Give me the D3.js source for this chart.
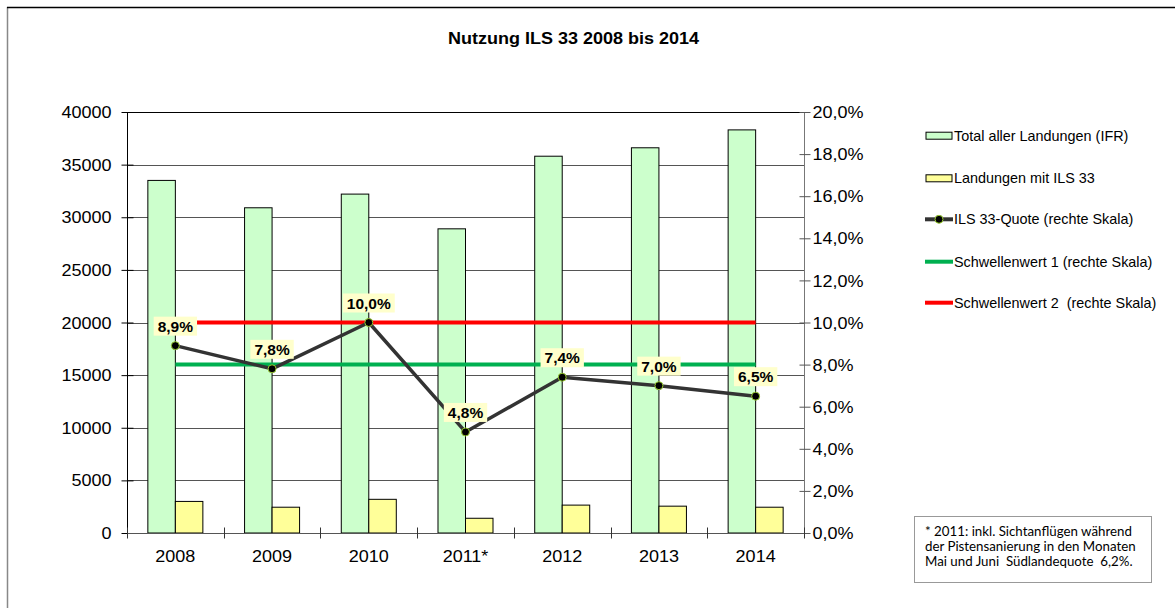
<!DOCTYPE html>
<html><head><meta charset="utf-8">
<script src="https://cdn.jsdelivr.net/npm/d3@7"></script>
<style>body{margin:0;background:#fff}svg{display:block}</style>
</head><body><svg id="c" width="1175" height="608"></svg>
<script>
const years = ["2008","2009","2010","2011*","2012","2013","2014"];
const totalLandings = [33500,30900,32200,28900,35800,36600,38300];
const ilsLandings = [3000,2450,3200,1400,2650,2550,2450];
const ilsQuote = [8.9,7.8,10.0,4.8,7.4,7.0,6.5];
const threshold1 = 8;
const threshold2 = 10;
const leftTicks = [0,5000,10000,15000,20000,25000,30000,35000,40000];
const rightTicks = [0,2,4,6,8,10,12,14,16,18,20];
const legendLabels = ["Total aller Landungen (IFR)","Landungen mit ILS 33","ILS 33-Quote (rechte Skala)","Schwellenwert 1 (rechte Skala)","Schwellenwert 2  (rechte Skala)"];
const titleText = "Nutzung ILS 33 2008 bis 2014";
const footnoteLines = ["* 2011: inkl. Sichtanflügen während","der Pistensanierung in den Monaten","Mai und Juni  Südlandequote  6,2%."];

const svg = d3.select("#c");
const L = 127, R = 804, T = 112, B = 533;
const SX = 1.14;
const fmtPct = v => v.toFixed(1).replace(".", ",") + "%";

// outer frame
svg.append("line").attr("x1",7.5).attr("x2",7.5).attr("y1",7).attr("y2",608).attr("stroke","#888").attr("stroke-width",1.5);
svg.append("line").attr("x1",7).attr("x2",1175).attr("y1",7.5).attr("y2",7.5).attr("stroke","#000").attr("stroke-width",1.5);

// title
svg.append("text").attr("transform",`translate(573.5,44) scale(${SX},1)`)
  .attr("text-anchor","middle").attr("font-family","Arial, Liberation Sans").attr("font-weight","bold")
  .attr("font-size",15.8).text(titleText);

const x = d3.scaleBand().domain(years).range([L,R]).padding(0);
const xs = d3.scaleBand().domain(["total","ils"]).range([0,x.bandwidth()]).paddingInner(0).paddingOuter(0.758);
const y = d3.scaleLinear().domain([0,40000]).range([B,T]);
const y2 = d3.scaleLinear().domain([0,20]).range([B,T]);

// gridlines
svg.append("g").selectAll("line").data(leftTicks.filter(d=>d>0)).join("line")
  .attr("x1",L).attr("x2",R).attr("y1",d=>Math.round(y(d))+0.5).attr("y2",d=>Math.round(y(d))+0.5)
  .attr("stroke",d=>d===40000?"#000":"#555").attr("stroke-width",1);

// bars
const bars = svg.append("g");
bars.selectAll("rect.t").data(years).join("rect").attr("class","t")
  .attr("x",d=>x(d)+xs("total")).attr("width",xs.bandwidth())
  .attr("y",(d,i)=>y(totalLandings[i])).attr("height",(d,i)=>B-y(totalLandings[i]))
  .attr("fill","#CCFFCC").attr("stroke","#000").attr("stroke-width",1);
bars.selectAll("rect.i").data(years).join("rect").attr("class","i")
  .attr("x",d=>x(d)+xs("ils")).attr("width",xs.bandwidth())
  .attr("y",(d,i)=>y(ilsLandings[i])).attr("height",(d,i)=>B-y(ilsLandings[i]))
  .attr("fill","#FFFF99").attr("stroke","#000").attr("stroke-width",1);

// left axis
const axL = svg.append("g").attr("transform",`translate(${L+0.5},0)`).call(d3.axisLeft(y).tickValues(leftTicks).tickSize(6).tickFormat(d=>d));
axL.select(".domain").attr("stroke","#000").attr("d",`M0,${B}V${T}`);
axL.selectAll(".tick line").attr("x1",-6).attr("x2",6).attr("stroke","#000");
axL.selectAll(".tick text").attr("x",null).attr("dy",null)
  .attr("transform",`translate(-16,5.6) scale(${SX},1)`)
  .attr("font-family","Arial, Liberation Sans").attr("font-size",15.8).attr("fill","#000");

// right axis
const axR = svg.append("g").attr("transform",`translate(${R+0.5},0)`).call(d3.axisRight(y2).tickValues(rightTicks).tickSize(6).tickFormat(d=>fmtPct(d)));
axR.select(".domain").attr("stroke","#777").attr("d",`M0,${B}V${T}`);
axR.selectAll(".tick line").attr("x1",-5).attr("x2",6).attr("stroke","#555");
axR.selectAll(".tick text").attr("x",null).attr("dy",null)
  .attr("transform",`translate(8,5.6) scale(${SX},1)`)
  .attr("font-family","Arial, Liberation Sans").attr("font-size",15.8).attr("fill","#000");

// bottom axis
const axB = svg.append("g").attr("transform",`translate(0,${B+0.5})`);
axB.append("line").attr("x1",L).attr("x2",R).attr("stroke","#555");
const bounds = years.map(d=>x(d)).concat([R]);
axB.selectAll("line.tk").data(bounds).join("line").attr("class","tk")
  .attr("x1",d=>Math.round(d)+0.5).attr("x2",d=>Math.round(d)+0.5).attr("y1",-6).attr("y2",5).attr("stroke","#333");
axB.selectAll("text").data(years).join("text")
  .attr("transform",d=>`translate(${x(d)+x.bandwidth()/2},28) scale(${SX},1)`)
  .attr("text-anchor","middle").attr("font-family","Arial, Liberation Sans").attr("font-size",15.8).text(d=>d);

// thresholds
const cx = d=>x(d)+x.bandwidth()/2;
const x0 = cx(years[0]), x1 = cx(years[years.length-1]);
svg.append("line").attr("x1",x0).attr("x2",x1).attr("y1",y2(threshold1)).attr("y2",y2(threshold1)).attr("stroke","#00B050").attr("stroke-width",4);
svg.append("line").attr("x1",x0).attr("x2",x1).attr("y1",y2(threshold2)).attr("y2",y2(threshold2)).attr("stroke","#FF0000").attr("stroke-width",4);

// quote line
const line = d3.line().x((d,i)=>cx(years[i])).y(d=>y2(d));
svg.append("path").datum(ilsQuote).attr("d",line).attr("fill","none").attr("stroke","#333").attr("stroke-width",3.5).attr("stroke-linejoin","round");
svg.append("g").selectAll("circle").data(ilsQuote).join("circle")
  .attr("cx",(d,i)=>cx(years[i])).attr("cy",d=>y2(d)).attr("r",4)
  .attr("fill","#000").attr("stroke","#9C3").attr("stroke-width",1);

// data labels
const lg = svg.append("g");
ilsQuote.forEach((v,i)=>{
  const px = cx(years[i]), py = y2(v);
  const g = lg.append("g");
  const r = g.append("rect").attr("fill","#FFFFCC");
  const t = g.append("text").attr("x",px).attr("y",py-14).attr("text-anchor","middle")
    .attr("font-family","Arial, Liberation Sans").attr("font-weight","bold").attr("font-size",15.5).text(fmtPct(v));
  const w = t.node().getComputedTextLength();
  r.attr("x",px-w/2-4).attr("width",w+8).attr("y",py-29).attr("height",19);
});

// legend
const legX = 926, legTxt = 954, legY = [135.7,178.3,219.3,261.7,302.7];
const leg = svg.append("g");
leg.append("rect").attr("x",legX).attr("y",legY[0]-3.5).attr("width",26).attr("height",7).attr("fill","#CCFFCC").attr("stroke","#000");
leg.append("rect").attr("x",legX).attr("y",legY[1]-3.5).attr("width",26).attr("height",7).attr("fill","#FFFF99").attr("stroke","#000");
leg.append("line").attr("x1",legX-1).attr("x2",legX+27).attr("y1",legY[2]).attr("y2",legY[2]).attr("stroke","#333").attr("stroke-width",4);
leg.append("circle").attr("cx",legX+13).attr("cy",legY[2]).attr("r",4).attr("fill","#000").attr("stroke","#9C3");
leg.append("line").attr("x1",legX-1).attr("x2",legX+27).attr("y1",legY[3]).attr("y2",legY[3]).attr("stroke","#00B050").attr("stroke-width",4);
leg.append("line").attr("x1",legX-1).attr("x2",legX+27).attr("y1",legY[4]).attr("y2",legY[4]).attr("stroke","#FF0000").attr("stroke-width",4);
leg.selectAll("text").data(legendLabels).join("text").attr("x",legTxt).attr("y",(d,i)=>legY[i]+5)
  .attr("font-family","Arial, Liberation Sans").attr("font-size",14.4).style("white-space","pre").text(d=>d);

// footnote
svg.append("rect").attr("x",914.5).attr("y",516.5).attr("width",237).attr("height",66).attr("fill","#fff").attr("stroke","#999");
svg.append("g").selectAll("text").data(footnoteLines).join("text")
  .attr("x",925).attr("y",(d,i)=>536+i*15).attr("font-family","Lato").attr("font-size",13.3).style("white-space","pre").text(d=>d);
</script></body></html>
